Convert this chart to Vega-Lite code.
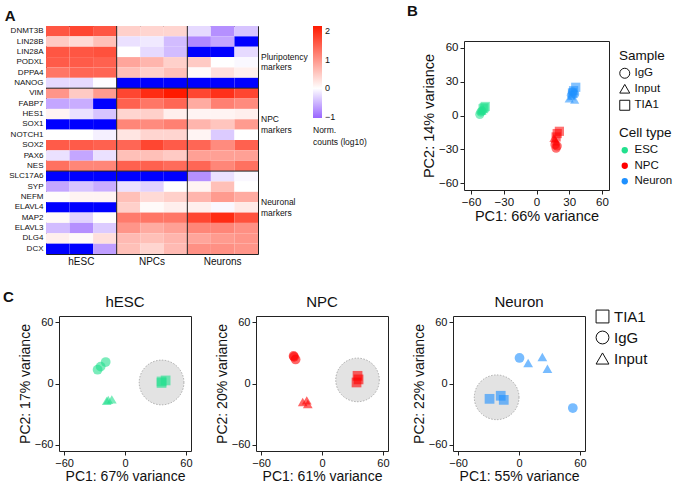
{
  "$schema": "https://vega.github.io/schema/vega-lite/v6.json",
  "padding": {"left": 3, "top": 3, "right": 0, "bottom": 0},
  "background": "white",
  "config": {
    "font": "Liberation Sans",
    "view": {"stroke": "#222", "strokeWidth": 1},
    "axis": {"domain": false, "grid": false, "ticks": true, "tickSize": 4, "tickColor": "#222", "labelFontSize": 11, "titleFontSize": 14, "titleFontWeight": "normal", "labelColor": "#111", "titleColor": "#111", "labelPadding": 2, "titlePadding": 2, "labelFont": "Liberation Sans", "titleFont": "Liberation Sans"},
    "legend": {"labelFont": "Liberation Sans", "titleFont": "Liberation Sans", "titleFontWeight": "normal", "labelColor": "#111", "titleColor": "#111"},
    "title": {"font": "Liberation Sans", "fontWeight": "normal", "color": "#111"}
  },
  "datasets": {
    "heat": [
      {"g":"DNMT3B","c":"hESC_1","v":1.6},{"g":"DNMT3B","c":"hESC_2","v":1.75},{"g":"DNMT3B","c":"hESC_3","v":1.6},{"g":"DNMT3B","c":"NPCs_1","v":0.45},{"g":"DNMT3B","c":"NPCs_2","v":0.4},{"g":"DNMT3B","c":"NPCs_3","v":0.4},{"g":"DNMT3B","c":"Neurons_1","v":-0.25},{"g":"DNMT3B","c":"Neurons_2","v":-0.75},{"g":"DNMT3B","c":"Neurons_3","v":-0.4},
      {"g":"LIN28B","c":"hESC_1","v":0.5},{"g":"LIN28B","c":"hESC_2","v":0.35},{"g":"LIN28B","c":"hESC_3","v":0.6},{"g":"LIN28B","c":"NPCs_1","v":-0.2},{"g":"LIN28B","c":"NPCs_2","v":-0.15},{"g":"LIN28B","c":"NPCs_3","v":-0.45},{"g":"LIN28B","c":"Neurons_1","v":-0.8},{"g":"LIN28B","c":"Neurons_2","v":-0.6},{"g":"LIN28B","c":"Neurons_3","v":-2},
      {"g":"LIN28A","c":"hESC_1","v":1.6},{"g":"LIN28A","c":"hESC_2","v":1.6},{"g":"LIN28A","c":"hESC_3","v":1.65},{"g":"LIN28A","c":"NPCs_1","v":0.0},{"g":"LIN28A","c":"NPCs_2","v":-0.25},{"g":"LIN28A","c":"NPCs_3","v":-0.45},{"g":"LIN28A","c":"Neurons_1","v":-2},{"g":"LIN28A","c":"Neurons_2","v":-2},{"g":"LIN28A","c":"Neurons_3","v":-0.25},
      {"g":"PODXL","c":"hESC_1","v":1.55},{"g":"PODXL","c":"hESC_2","v":1.55},{"g":"PODXL","c":"hESC_3","v":1.5},{"g":"PODXL","c":"NPCs_1","v":0.85},{"g":"PODXL","c":"NPCs_2","v":0.7},{"g":"PODXL","c":"NPCs_3","v":0.45},{"g":"PODXL","c":"Neurons_1","v":0.5},{"g":"PODXL","c":"Neurons_2","v":0.0},{"g":"PODXL","c":"Neurons_3","v":-0.05},
      {"g":"DPPA4","c":"hESC_1","v":1.3},{"g":"DPPA4","c":"hESC_2","v":1.45},{"g":"DPPA4","c":"hESC_3","v":1.45},{"g":"DPPA4","c":"NPCs_1","v":0.6},{"g":"DPPA4","c":"NPCs_2","v":0.45},{"g":"DPPA4","c":"NPCs_3","v":0.6},{"g":"DPPA4","c":"Neurons_1","v":0.05},{"g":"DPPA4","c":"Neurons_2","v":0.3},{"g":"DPPA4","c":"Neurons_3","v":0.15},
      {"g":"NANOG","c":"hESC_1","v":-0.25},{"g":"NANOG","c":"hESC_2","v":-0.25},{"g":"NANOG","c":"hESC_3","v":-0.02},{"g":"NANOG","c":"NPCs_1","v":-2},{"g":"NANOG","c":"NPCs_2","v":-2},{"g":"NANOG","c":"NPCs_3","v":-2},{"g":"NANOG","c":"Neurons_1","v":-2},{"g":"NANOG","c":"Neurons_2","v":-2},{"g":"NANOG","c":"Neurons_3","v":-2},
      {"g":"VIM","c":"hESC_1","v":1.0},{"g":"VIM","c":"hESC_2","v":0.5},{"g":"VIM","c":"hESC_3","v":0.95},{"g":"VIM","c":"NPCs_1","v":1.75},{"g":"VIM","c":"NPCs_2","v":2.0},{"g":"VIM","c":"NPCs_3","v":2.17},{"g":"VIM","c":"Neurons_1","v":1.75},{"g":"VIM","c":"Neurons_2","v":1.95},{"g":"VIM","c":"Neurons_3","v":1.75},
      {"g":"FABP7","c":"hESC_1","v":-0.6},{"g":"FABP7","c":"hESC_2","v":-0.55},{"g":"FABP7","c":"hESC_3","v":-2},{"g":"FABP7","c":"NPCs_1","v":1.5},{"g":"FABP7","c":"NPCs_2","v":1.3},{"g":"FABP7","c":"NPCs_3","v":1.45},{"g":"FABP7","c":"Neurons_1","v":0.8},{"g":"FABP7","c":"Neurons_2","v":1.2},{"g":"FABP7","c":"Neurons_3","v":1.1},
      {"g":"HES1","c":"hESC_1","v":0.1},{"g":"HES1","c":"hESC_2","v":-0.2},{"g":"HES1","c":"hESC_3","v":-0.4},{"g":"HES1","c":"NPCs_1","v":0.4},{"g":"HES1","c":"NPCs_2","v":0.45},{"g":"HES1","c":"NPCs_3","v":0.15},{"g":"HES1","c":"Neurons_1","v":0.1},{"g":"HES1","c":"Neurons_2","v":0.1},{"g":"HES1","c":"Neurons_3","v":0.15},
      {"g":"SOX1","c":"hESC_1","v":-2},{"g":"SOX1","c":"hESC_2","v":-2},{"g":"SOX1","c":"hESC_3","v":-2},{"g":"SOX1","c":"NPCs_1","v":1.15},{"g":"SOX1","c":"NPCs_2","v":1.1},{"g":"SOX1","c":"NPCs_3","v":1.2},{"g":"SOX1","c":"Neurons_1","v":0.7},{"g":"SOX1","c":"Neurons_2","v":0.55},{"g":"SOX1","c":"Neurons_3","v":0.95},
      {"g":"NOTCH1","c":"hESC_1","v":0.0},{"g":"NOTCH1","c":"hESC_2","v":0.0},{"g":"NOTCH1","c":"hESC_3","v":-0.1},{"g":"NOTCH1","c":"NPCs_1","v":0.25},{"g":"NOTCH1","c":"NPCs_2","v":0.4},{"g":"NOTCH1","c":"NPCs_3","v":0.4},{"g":"NOTCH1","c":"Neurons_1","v":0.1},{"g":"NOTCH1","c":"Neurons_2","v":-0.35},{"g":"NOTCH1","c":"Neurons_3","v":0.0},
      {"g":"SOX2","c":"hESC_1","v":1.55},{"g":"SOX2","c":"hESC_2","v":1.55},{"g":"SOX2","c":"hESC_3","v":1.5},{"g":"SOX2","c":"NPCs_1","v":1.45},{"g":"SOX2","c":"NPCs_2","v":1.75},{"g":"SOX2","c":"NPCs_3","v":1.55},{"g":"SOX2","c":"Neurons_1","v":1.45},{"g":"SOX2","c":"Neurons_2","v":1.1},{"g":"SOX2","c":"Neurons_3","v":1.5},
      {"g":"PAX6","c":"hESC_1","v":-0.2},{"g":"PAX6","c":"hESC_2","v":-0.6},{"g":"PAX6","c":"hESC_3","v":-0.2},{"g":"PAX6","c":"NPCs_1","v":0.6},{"g":"PAX6","c":"NPCs_2","v":0.6},{"g":"PAX6","c":"NPCs_3","v":0.5},{"g":"PAX6","c":"Neurons_1","v":0.9},{"g":"PAX6","c":"Neurons_2","v":0.9},{"g":"PAX6","c":"Neurons_3","v":0.9},
      {"g":"NES","c":"hESC_1","v":1.35},{"g":"NES","c":"hESC_2","v":1.15},{"g":"NES","c":"hESC_3","v":1.15},{"g":"NES","c":"NPCs_1","v":1.5},{"g":"NES","c":"NPCs_2","v":1.5},{"g":"NES","c":"NPCs_3","v":1.4},{"g":"NES","c":"Neurons_1","v":1.45},{"g":"NES","c":"Neurons_2","v":1.15},{"g":"NES","c":"Neurons_3","v":1.35},
      {"g":"SLC17A6","c":"hESC_1","v":-2},{"g":"SLC17A6","c":"hESC_2","v":-2},{"g":"SLC17A6","c":"hESC_3","v":-2},{"g":"SLC17A6","c":"NPCs_1","v":-2},{"g":"SLC17A6","c":"NPCs_2","v":-2},{"g":"SLC17A6","c":"NPCs_3","v":-2},{"g":"SLC17A6","c":"Neurons_1","v":-0.75},{"g":"SLC17A6","c":"Neurons_2","v":-0.2},{"g":"SLC17A6","c":"Neurons_3","v":-0.05},
      {"g":"SYP","c":"hESC_1","v":-0.6},{"g":"SYP","c":"hESC_2","v":-0.4},{"g":"SYP","c":"hESC_3","v":-0.55},{"g":"SYP","c":"NPCs_1","v":-0.2},{"g":"SYP","c":"NPCs_2","v":-0.3},{"g":"SYP","c":"NPCs_3","v":0.0},{"g":"SYP","c":"Neurons_1","v":0.1},{"g":"SYP","c":"Neurons_2","v":0.6},{"g":"SYP","c":"Neurons_3","v":0.0},
      {"g":"NEFM","c":"hESC_1","v":0.03},{"g":"NEFM","c":"hESC_2","v":0.1},{"g":"NEFM","c":"hESC_3","v":0.1},{"g":"NEFM","c":"NPCs_1","v":0.6},{"g":"NEFM","c":"NPCs_2","v":0.35},{"g":"NEFM","c":"NPCs_3","v":0.45},{"g":"NEFM","c":"Neurons_1","v":0.7},{"g":"NEFM","c":"Neurons_2","v":0.95},{"g":"NEFM","c":"Neurons_3","v":0.8},
      {"g":"ELAVL4","c":"hESC_1","v":-2},{"g":"ELAVL4","c":"hESC_2","v":-2},{"g":"ELAVL4","c":"hESC_3","v":-2},{"g":"ELAVL4","c":"NPCs_1","v":0.45},{"g":"ELAVL4","c":"NPCs_2","v":0.05},{"g":"ELAVL4","c":"NPCs_3","v":0.15},{"g":"ELAVL4","c":"Neurons_1","v":0.15},{"g":"ELAVL4","c":"Neurons_2","v":-0.05},{"g":"ELAVL4","c":"Neurons_3","v":0.2},
      {"g":"MAP2","c":"hESC_1","v":0.05},{"g":"MAP2","c":"hESC_2","v":-0.3},{"g":"MAP2","c":"hESC_3","v":0.02},{"g":"MAP2","c":"NPCs_1","v":1.25},{"g":"MAP2","c":"NPCs_2","v":1.3},{"g":"MAP2","c":"NPCs_3","v":1.3},{"g":"MAP2","c":"Neurons_1","v":1.75},{"g":"MAP2","c":"Neurons_2","v":2.0},{"g":"MAP2","c":"Neurons_3","v":1.65},
      {"g":"ELAVL3","c":"hESC_1","v":-0.45},{"g":"ELAVL3","c":"hESC_2","v":-0.75},{"g":"ELAVL3","c":"hESC_3","v":-0.35},{"g":"ELAVL3","c":"NPCs_1","v":1.0},{"g":"ELAVL3","c":"NPCs_2","v":0.8},{"g":"ELAVL3","c":"NPCs_3","v":0.9},{"g":"ELAVL3","c":"Neurons_1","v":1.15},{"g":"ELAVL3","c":"Neurons_2","v":1.15},{"g":"ELAVL3","c":"Neurons_3","v":1.05},
      {"g":"DLG4","c":"hESC_1","v":0.15},{"g":"DLG4","c":"hESC_2","v":0.05},{"g":"DLG4","c":"hESC_3","v":0.3},{"g":"DLG4","c":"NPCs_1","v":0.65},{"g":"DLG4","c":"NPCs_2","v":0.6},{"g":"DLG4","c":"NPCs_3","v":0.7},{"g":"DLG4","c":"Neurons_1","v":0.85},{"g":"DLG4","c":"Neurons_2","v":0.95},{"g":"DLG4","c":"Neurons_3","v":1.0},
      {"g":"DCX","c":"hESC_1","v":-2},{"g":"DCX","c":"hESC_2","v":-2},{"g":"DCX","c":"hESC_3","v":-0.65},{"g":"DCX","c":"NPCs_1","v":0.6},{"g":"DCX","c":"NPCs_2","v":0.4},{"g":"DCX","c":"NPCs_3","v":0.65},{"g":"DCX","c":"Neurons_1","v":1.05},{"g":"DCX","c":"Neurons_2","v":1.05},{"g":"DCX","c":"Neurons_3","v":1.0}
    ],
    "pcaAll": [
      {"cell":"ESC","sample":"IgG","PC1":-52,"PC2":1},{"cell":"ESC","sample":"IgG","PC1":-51,"PC2":3},{"cell":"ESC","sample":"IgG","PC1":-50,"PC2":4},
      {"cell":"ESC","sample":"Input","PC1":-50,"PC2":4},{"cell":"ESC","sample":"Input","PC1":-49,"PC2":6},{"cell":"ESC","sample":"Input","PC1":-51,"PC2":5},
      {"cell":"ESC","sample":"TIA1","PC1":-47,"PC2":8},{"cell":"ESC","sample":"TIA1","PC1":-48,"PC2":7},{"cell":"ESC","sample":"TIA1","PC1":-49,"PC2":6},
      {"cell":"NPC","sample":"IgG","PC1":18,"PC2":-29},{"cell":"NPC","sample":"IgG","PC1":17,"PC2":-26},{"cell":"NPC","sample":"IgG","PC1":19,"PC2":-27},
      {"cell":"NPC","sample":"Input","PC1":17,"PC2":-21},{"cell":"NPC","sample":"Input","PC1":18,"PC2":-23},{"cell":"NPC","sample":"Input","PC1":16,"PC2":-20},
      {"cell":"NPC","sample":"TIA1","PC1":21,"PC2":-14},{"cell":"NPC","sample":"TIA1","PC1":19,"PC2":-16},{"cell":"NPC","sample":"TIA1","PC1":18,"PC2":-19},
      {"cell":"Neuron","sample":"IgG","PC1":32,"PC2":18},{"cell":"Neuron","sample":"IgG","PC1":35,"PC2":19},{"cell":"Neuron","sample":"IgG","PC1":33,"PC2":21},
      {"cell":"Neuron","sample":"Input","PC1":35,"PC2":14},{"cell":"Neuron","sample":"Input","PC1":30,"PC2":15},{"cell":"Neuron","sample":"Input","PC1":32,"PC2":17},
      {"cell":"Neuron","sample":"TIA1","PC1":36,"PC2":25},{"cell":"Neuron","sample":"TIA1","PC1":34,"PC2":22},{"cell":"Neuron","sample":"TIA1","PC1":33,"PC2":20}
    ],
    "pcaC": [
      {"cell":"hESC","sample":"IgG","PC1":-19,"PC2":21},{"cell":"hESC","sample":"IgG","PC1":-24,"PC2":16.5},{"cell":"hESC","sample":"IgG","PC1":-27,"PC2":13.5},
      {"cell":"hESC","sample":"Input","PC1":-16.5,"PC2":-16},{"cell":"hESC","sample":"Input","PC1":-13,"PC2":-15.5},{"cell":"hESC","sample":"Input","PC1":-18,"PC2":-17},
      {"cell":"hESC","sample":"TIA1","PC1":36,"PC2":2},{"cell":"hESC","sample":"TIA1","PC1":40,"PC2":3},{"cell":"hESC","sample":"TIA1","PC1":36,"PC2":0.5},
      {"cell":"NPC","sample":"IgG","PC1":-28,"PC2":27},{"cell":"NPC","sample":"IgG","PC1":-26,"PC2":23.5},{"cell":"NPC","sample":"IgG","PC1":-27.5,"PC2":26},
      {"cell":"NPC","sample":"Input","PC1":-19,"PC2":-18},{"cell":"NPC","sample":"Input","PC1":-15,"PC2":-16.5},{"cell":"NPC","sample":"Input","PC1":-14,"PC2":-20},
      {"cell":"NPC","sample":"TIA1","PC1":35,"PC2":7.5},{"cell":"NPC","sample":"TIA1","PC1":36,"PC2":4},{"cell":"NPC","sample":"TIA1","PC1":34,"PC2":1},
      {"cell":"Neuron","sample":"IgG","PC1":0.5,"PC2":25},{"cell":"Neuron","sample":"IgG","PC1":53,"PC2":-24},
      {"cell":"Neuron","sample":"Input","PC1":9,"PC2":20},{"cell":"Neuron","sample":"Input","PC1":23,"PC2":26},{"cell":"Neuron","sample":"Input","PC1":28,"PC2":14.5},
      {"cell":"Neuron","sample":"TIA1","PC1":-29,"PC2":-15},{"cell":"Neuron","sample":"TIA1","PC1":-18,"PC2":-12},{"cell":"Neuron","sample":"TIA1","PC1":-15,"PC2":-16}
    ]
  },
  "resolve": {"scale": {"color": "independent", "shape": "independent"}, "legend": {"color": "independent", "shape": "independent"}},
  "columns": 1,
  "spacing": 22,
  "concat": [
    {
      "columns": 2,
      "spacing": 0,
      "resolve": {"scale": {"color": "independent", "shape": "independent"}, "legend": {"color": "independent", "shape": "independent"}},
      "concat": [
        {
          "width": 1, "height": 1, "view": {"stroke": null},
          "data": {"values": [{}]},
          "mark": {"type": "text", "text": ""}
        },
        {
          "columns": 2,
          "spacing": 39,
          "resolve": {"scale": {"color": "independent", "shape": "independent"}, "legend": {"color": "independent", "shape": "independent"}},
          "concat": [
            {
              "title": {"text": "A", "anchor": "start", "frame": "bounds", "fontSize": 15, "fontWeight": "bold", "dx": -4, "offset": 2},
              "width": 212,
              "height": 228,
              "layer": [
                {
                  "data": {"name": "heat"},
                  "mark": {"type": "rect"},
                  "encoding": {
                    "x": {"field": "c", "type": "nominal", "sort": null,
                      "scale": {"domain": ["hESC_1","hESC_2","hESC_3","NPCs_1","NPCs_2","NPCs_3","Neurons_1","Neurons_2","Neurons_3"], "paddingInner": 0, "paddingOuter": 0},
                      "axis": {"title": null, "ticks": false, "domain": false, "labelAngle": 0, "labelFontSize": 10, "labelPadding": 2, "labelExpr": "indexof(datum.value, '_2') > 0 ? split(datum.value, '_')[0] : ''"}},
                    "y": {"field": "g", "type": "nominal", "sort": null,
                      "scale": {"domain": ["DNMT3B","LIN28B","LIN28A","PODXL","DPPA4","NANOG","VIM","FABP7","HES1","SOX1","NOTCH1","SOX2","PAX6","NES","SLC17A6","SYP","NEFM","ELAVL4","MAP2","ELAVL3","DLG4","DCX"], "paddingInner": 0, "paddingOuter": 0},
                      "axis": {"title": null, "ticks": false, "domain": false, "labelFontSize": 8, "labelPadding": 3}},
                    "color": {
                      "condition": {"test": "datum.v < -1.5", "value": "#0000ff"},
                      "field": "v", "type": "quantitative",
                      "scale": {"domain": [-1.03, 0, 2.17], "range": ["#9966ff", "#ffffff", "#ff1a00"], "interpolate": "rgb", "clamp": true, "nice": false, "zero": false},
                      "legend": {"title": ["Norm.", "counts (log10)"], "titleOrient": "bottom", "titleFontSize": 8.5, "titleLineHeight": 12, "titlePadding": 4, "labelFontSize": 9, "gradientLength": 92, "gradientThickness": 9, "values": [-1, 0, 1, 2], "offset": 55, "labelOffset": 3, "gradientStrokeWidth": 0}
                    }
                  }
                },
                {
                  "data": {"values": [{"c": "hESC_3"}, {"c": "NPCs_3"}]},
                  "mark": {"type": "rule", "color": "#222", "strokeWidth": 1},
                  "encoding": {"x": {"field": "c", "type": "nominal", "bandPosition": 1}}
                },
                {
                  "data": {"values": [{"g": "NANOG"}, {"g": "NES"}]},
                  "mark": {"type": "rule", "color": "#222", "strokeWidth": 1},
                  "encoding": {"y": {"field": "g", "type": "nominal", "bandPosition": 1}}
                },
                {
                  "data": {"values": [
                    {"g": "LIN28A", "t": "Pluripotency"}, {"g": "PODXL", "t": "markers"},
                    {"g": "HES1", "t": "NPC"}, {"g": "SOX1", "t": "markers"},
                    {"g": "NEFM", "t": "Neuronal"}, {"g": "ELAVL4", "t": "markers"}
                  ]},
                  "mark": {"type": "text", "align": "left", "baseline": "middle", "dx": 3, "fontSize": 8.5, "color": "#111"},
                  "encoding": {
                    "x": {"value": "width"},
                    "y": {"field": "g", "type": "nominal", "bandPosition": 1},
                    "text": {"field": "t"}
                  }
                }
              ]
            },
            {
              "columns": 1,
              "spacing": 8,
              "resolve": {"scale": {"color": "independent", "shape": "independent"}, "legend": {"color": "independent", "shape": "independent"}},
              "concat": [
                {
                  "width": 1, "height": 1, "view": {"stroke": null},
                  "title": {"text": "B", "anchor": "start", "frame": "group", "fontSize": 15, "fontWeight": "bold", "dx": -57, "offset": 2},
                  "data": {"values": [{}]},
                  "mark": {"type": "text", "text": ""}
                },
                {
                  "width": 145,
                  "height": 149,
                  "data": {"name": "pcaAll"},
                  "mark": {"type": "point", "filled": true, "opacity": 0.55, "size": 85},
                  "encoding": {
                    "x": {"field": "PC1", "type": "quantitative", "scale": {"domain": [-66.5, 66.5], "nice": false, "zero": false}, "axis": {"values": [-60, -30, 0, 30, 60], "title": "PC1: 66% variance", "labelFontSize": 11.5, "titleFontSize": 14.5}},
                    "y": {"field": "PC2", "type": "quantitative", "scale": {"domain": [-66, 66], "nice": false, "zero": false}, "axis": {"values": [-60, -30, 0, 30, 60], "title": "PC2: 14% variance", "labelFontSize": 11.5, "titleFontSize": 14.5}},
                    "shape": {"field": "sample", "type": "nominal", "scale": {"domain": ["IgG", "Input", "TIA1"], "range": ["circle", "triangle-up", "square"]},
                      "legend": {"title": "Sample", "orient": "none", "legendX": 155, "legendY": 8, "titleFontSize": 13.5, "labelFontSize": 11.5, "symbolSize": 100, "rowPadding": 1.5,
                        "symbolFillColor": "transparent", "symbolStrokeColor": "#111", "symbolStrokeWidth": 1, "symbolOpacity": 1}},
                    "color": {"field": "cell", "type": "nominal", "scale": {"domain": ["ESC", "NPC", "Neuron"], "range": ["#22e08e", "#ff0000", "#1e90ff"]},
                      "legend": {"title": "Cell type", "orient": "none", "legendX": 155, "legendY": 85, "titleFontSize": 13.5, "labelFontSize": 11.5, "symbolType": "circle", "symbolSize": 40, "symbolOpacity": 1, "rowPadding": 2.5}}
                  }
                }
              ]
            }
          ]
        }
      ]
    },
    {
      "columns": 2,
      "spacing": 3,
      "resolve": {"scale": {"color": "independent", "shape": "independent"}, "legend": {"color": "independent", "shape": "independent"}},
      "concat": [
        {
          "width": 1, "height": 1, "view": {"stroke": null},
          "title": {"text": "C", "anchor": "start", "frame": "group", "fontSize": 15, "fontWeight": "bold", "offset": 6},
          "data": {"values": [{}]},
          "mark": {"type": "text", "text": ""}
        },
        {
          "data": {"name": "pcaC"},
          "columns": 3,
          "spacing": 21,
          "concat": [
            {
              "title": {"text": "hESC", "fontSize": 15, "offset": 6},
              "width": 132, "height": 135,
              "layer": [
                {"data": {"values": [{"PC1": 36, "PC2": 1}]},
                 "mark": {"type": "point", "shape": "circle", "size": 2000, "filled": true, "fill": "#e3e3e3", "stroke": "#999999", "strokeWidth": 0.8, "strokeDash": [1.5, 1.5], "opacity": 1},
                 "encoding": {"x": {"field": "PC1", "type": "quantitative"}, "y": {"field": "PC2", "type": "quantitative"}}},
                {"transform": [{"filter": "datum.cell === 'hESC'"}],
                 "mark": {"type": "point", "filled": true, "opacity": 0.6, "size": 95},
                 "encoding": {
                   "x": {"field": "PC1", "type": "quantitative", "scale": {"domain": [-65, 65], "nice": false, "zero": false}, "axis": {"values": [-60, -30, 0, 30, 60], "title": "PC1: 67% variance", "titlePadding": 1}},
                   "y": {"field": "PC2", "type": "quantitative", "scale": {"domain": [-66, 66], "nice": false, "zero": false}, "axis": {"values": [-60, -30, 0, 30, 60], "title": "PC2: 17% variance"}},
                   "color": {"field": "cell", "type": "nominal", "scale": {"domain": ["hESC", "NPC", "Neuron"], "range": ["#22e08e", "#ff0000", "#1e90ff"]}, "legend": null},
                   "shape": {"field": "sample", "type": "nominal", "scale": {"domain": ["TIA1", "IgG", "Input"], "range": ["square", "circle", "triangle-up"]},
                     "legend": {"title": null, "orient": "none", "legendX": 536, "legendY": -7, "labelFontSize": 15, "symbolSize": 165, "rowPadding": 4,
                       "symbolFillColor": "transparent", "symbolStrokeColor": "#111", "symbolStrokeWidth": 1, "symbolOpacity": 1}}
                 }}
              ]
            },
            {
              "title": {"text": "NPC", "fontSize": 15, "offset": 6},
              "width": 132, "height": 135,
              "layer": [
                {"data": {"values": [{"PC1": 35, "PC2": 3.5}]},
                 "mark": {"type": "point", "shape": "circle", "size": 1900, "filled": true, "fill": "#e3e3e3", "stroke": "#999999", "strokeWidth": 0.8, "strokeDash": [1.5, 1.5], "opacity": 1},
                 "encoding": {"x": {"field": "PC1", "type": "quantitative"}, "y": {"field": "PC2", "type": "quantitative"}}},
                {"transform": [{"filter": "datum.cell === 'NPC'"}],
                 "mark": {"type": "point", "filled": true, "opacity": 0.6, "size": 95},
                 "encoding": {
                   "x": {"field": "PC1", "type": "quantitative", "scale": {"domain": [-65, 65], "nice": false, "zero": false}, "axis": {"values": [-60, -30, 0, 30, 60], "title": "PC1: 61% variance", "titlePadding": 1}},
                   "y": {"field": "PC2", "type": "quantitative", "scale": {"domain": [-66, 66], "nice": false, "zero": false}, "axis": {"values": [-60, -30, 0, 30, 60], "title": "PC2: 20% variance"}},
                   "color": {"field": "cell", "type": "nominal", "scale": {"domain": ["hESC", "NPC", "Neuron"], "range": ["#22e08e", "#ff0000", "#1e90ff"]}, "legend": null},
                   "shape": {"field": "sample", "type": "nominal", "scale": {"domain": ["TIA1", "IgG", "Input"], "range": ["square", "circle", "triangle-up"]},
                     "legend": {"title": null, "orient": "none", "legendX": 536, "legendY": -7, "labelFontSize": 15, "symbolSize": 165, "rowPadding": 4,
                       "symbolFillColor": "transparent", "symbolStrokeColor": "#111", "symbolStrokeWidth": 1, "symbolOpacity": 1}}
                 }}
              ]
            },
            {
              "title": {"text": "Neuron", "fontSize": 15, "offset": 6},
              "width": 132, "height": 135,
              "layer": [
                {"data": {"values": [{"PC1": -22, "PC2": -13.5}]},
                 "mark": {"type": "point", "shape": "circle", "size": 2000, "filled": true, "fill": "#e3e3e3", "stroke": "#999999", "strokeWidth": 0.8, "strokeDash": [1.5, 1.5], "opacity": 1},
                 "encoding": {"x": {"field": "PC1", "type": "quantitative"}, "y": {"field": "PC2", "type": "quantitative"}}},
                {"transform": [{"filter": "datum.cell === 'Neuron'"}],
                 "mark": {"type": "point", "filled": true, "opacity": 0.6, "size": 95},
                 "encoding": {
                   "x": {"field": "PC1", "type": "quantitative", "scale": {"domain": [-65, 65], "nice": false, "zero": false}, "axis": {"values": [-60, -30, 0, 30, 60], "title": "PC1: 55% variance", "titlePadding": 1}},
                   "y": {"field": "PC2", "type": "quantitative", "scale": {"domain": [-66, 66], "nice": false, "zero": false}, "axis": {"values": [-60, -30, 0, 30, 60], "title": "PC2: 22% variance"}},
                   "color": {"field": "cell", "type": "nominal", "scale": {"domain": ["hESC", "NPC", "Neuron"], "range": ["#22e08e", "#ff0000", "#1e90ff"]}, "legend": null},
                   "shape": {"field": "sample", "type": "nominal", "scale": {"domain": ["TIA1", "IgG", "Input"], "range": ["square", "circle", "triangle-up"]},
                     "legend": {"title": null, "orient": "none", "legendX": 536, "legendY": -7, "labelFontSize": 15, "symbolSize": 165, "rowPadding": 4,
                       "symbolFillColor": "transparent", "symbolStrokeColor": "#111", "symbolStrokeWidth": 1, "symbolOpacity": 1}}
                 }}
              ]
            }
          ]
        }
      ]
    }
  ]
}
